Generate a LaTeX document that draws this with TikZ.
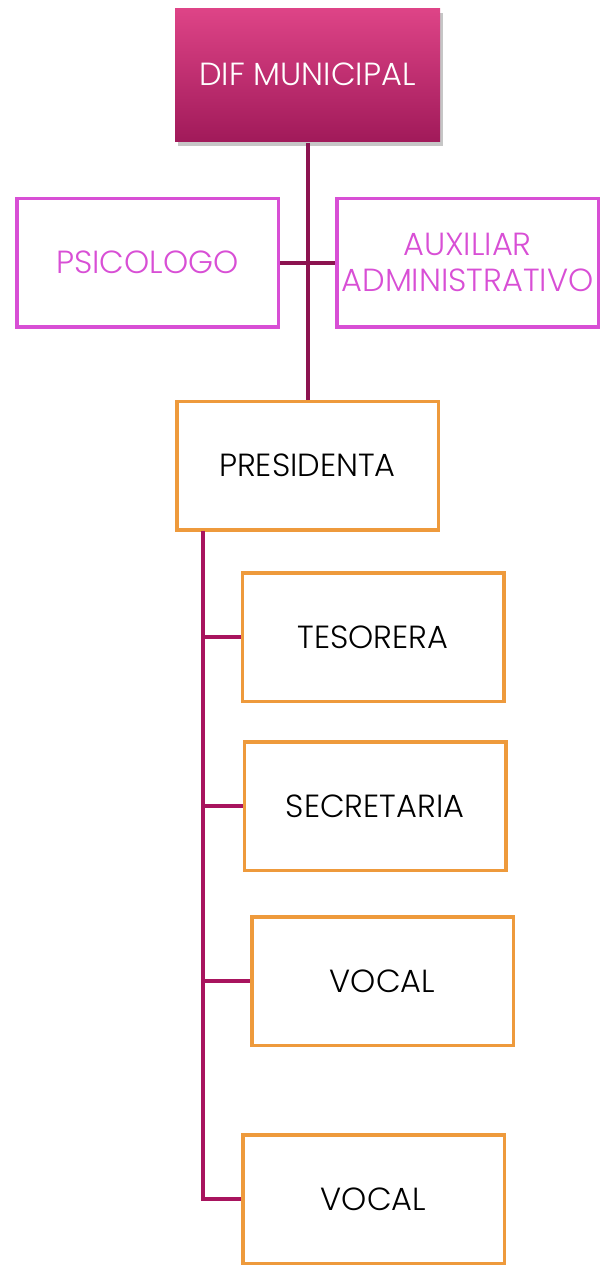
\documentclass[tikz,border=0pt]{standalone}
\usepackage{fontspec}
\setmainfont{Poppins}[UprightFont={* Light}]
\usetikzlibrary{shadows,calc}
\definecolor{difpink}{HTML}{DE4487}
\definecolor{difwine}{HTML}{A11A5A}
\definecolor{lila}{HTML}{D84FD5}
\definecolor{naranja}{HTML}{EE9A3C}
\definecolor{vino}{HTML}{8C1350}
\definecolor{fucsia}{HTML}{A8145E}

\begin{document}
\begin{tikzpicture}[x=1pt, y=-1pt]
                       \tikzstyle{cargo}=[rectangle, draw, line width=3.5pt, minimum width=261.5pt, minimum height=128.5pt, inner sep=0pt, align=center, font=\fontsize{32}{36}\selectfont]
                       \tikzstyle{apoyo}=[cargo, draw=lila, text=lila]
                       \tikzstyle{comite}=[cargo, draw=naranja, text=black]
                       \useasboundingbox (0,0) rectangle (603,1267);

                        % Nodos
                        \node[cargo, draw=none, minimum width=265pt, minimum height=133pt, top color=difpink, bottom color=difwine, text=white, drop shadow={shadow xshift=3pt, shadow yshift=-5pt, opacity=0.45}] (dif) at (307.5,74.5) {DIF MUNICIPAL};
                        \node[apoyo] (psi) at (147.5,262.5) {PSICOLOGO};
                        \node[apoyo] (aux) at (467.5,262.5) {AUXILIAR\\ADMINISTRATIVO};
                        \node[comite] (pres) at (307.5,465.5) {PRESIDENTA};
                        \node[comite] (tes) at (373,637) {TESORERA};
                        \node[comite] (sec) at (375,806) {SECRETARIA};
                        \node[comite] (voc1) at (382.5,981) {VOCAL};
                        \node[comite] (voc2) at (373.5,1199) {VOCAL};
                        \coordinate (tronco) at (203,531);

                        % Lineas
                        \draw[vino, line width=4pt] (dif.south) -- (pres.north);
                        \draw[vino, line width=4pt] (psi.east) -- (aux.west);
                        \draw[fucsia, line width=4pt] (tronco) |- (voc2.west);
                        \draw[fucsia, line width=4pt] (tronco |- tes.west) -- (tes.west);
                        \draw[fucsia, line width=4pt] (tronco |- sec.west) -- (sec.west);
                        \draw[fucsia, line width=4pt] (tronco |- voc1.west) -- (voc1.west);
                  \end{tikzpicture}
\end{document}
